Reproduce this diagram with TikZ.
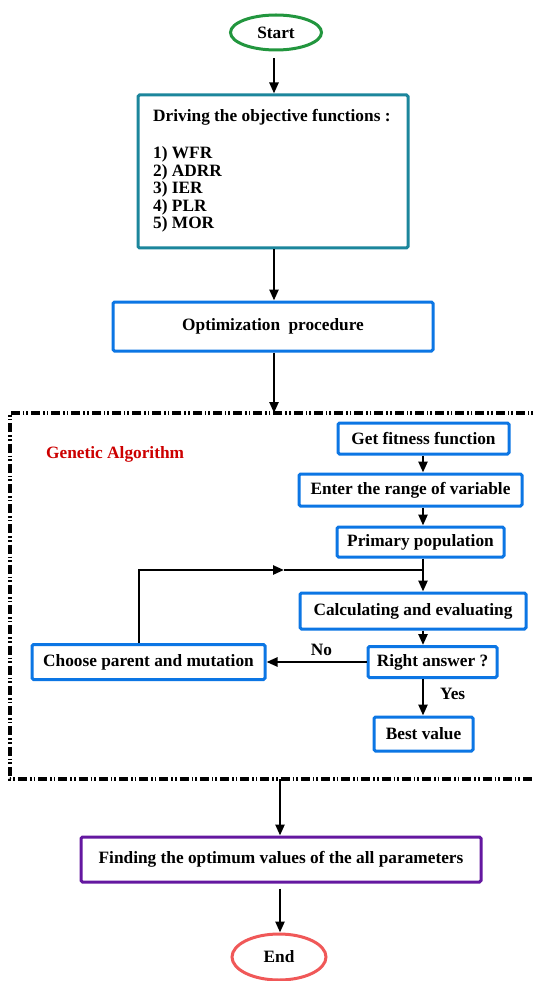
\documentclass[tikz,border=0pt]{standalone}
\usepackage{fontspec}
\setmainfont{Liberation Serif}
\usetikzlibrary{arrows.meta,shapes.geometric}
\definecolor{tealb}{RGB}{28,134,156}
\definecolor{blueb}{RGB}{12,118,228}
\definecolor{purpb}{RGB}{100,24,160}
\definecolor{greenb}{RGB}{34,150,62}
\definecolor{redb}{RGB}{240,88,88}
\definecolor{gared}{RGB}{205,0,0}
\tikzset{
  txt/.style={inner sep=0pt, font=\fontsize{17.3}{19}\selectfont\bfseries},
  box/.style={txt, draw=blueb, line width=3pt, rounded corners=1.5pt, fill=white},
  oval/.style={txt, ellipse, line width=3pt, inner sep=0pt},
  arr/.style={-{Triangle[length=11pt,width=9pt]}, line width=2.4pt},
  conn/.style={line width=2.4pt},
  gabox/.style={line width=3.2pt, dash pattern=on 9pt off 3pt on 1.6pt off 2pt on 1.6pt off 3pt}
}
\begin{document}
\begin{tikzpicture}[x=1pt,y=-1pt]
\useasboundingbox (0,0) rectangle (533,981);
\clip (0,0) rectangle (533,981);
\fill[white] (0,0) rectangle (533,981);

% helper columns
\coordinate (ax) at (274,0);
\coordinate (col) at (423,0);
\coordinate (lx) at (139,0);
\coordinate (gatop) at (274,413);
\coordinate (gabot) at (280,779);
\coordinate (junc) at (423,570);
\coordinate (loopmid) at (284,570);

% start
\node[oval, draw=greenb, minimum width=91pt, minimum height=35pt] (start) at (276,32.5) {Start};

% objective functions box
\node[box, draw=tealb, minimum width=270pt, minimum height=153pt] (box1) at (273,171.5) {};
\node[txt, anchor=base west] (t0) at (153,122) {Driving the objective functions :};
\node[txt, anchor=base west] (t1) at (153,159) {1) WFR};
\node[txt, anchor=base west] (t2) at (153,176.5) {2) ADRR};
\node[txt, anchor=base west] (t3) at (153,194) {3) IER};
\node[txt, anchor=base west] (t4) at (153,211.5) {4) PLR};
\node[txt, anchor=base west] (t5) at (153,229) {5) MOR};

% optimization
\node[box, minimum width=320pt, minimum height=49pt] (optim) at (273,326.5) {Optimization\hspace{4pt} procedure};

% genetic algorithm frame
\draw[gabox] (545,413) -- (10,413) -- (10,779) -- (545,779);
\node[txt, text=gared, anchor=base west] (galabel) at (46,458) {Genetic Algorithm};

\node[box, minimum width=171pt, minimum height=31pt] (getfit) at (423.5,438.5) {Get fitness function};
\node[box, minimum width=223pt, minimum height=32pt] (enter) at (410.5,490) {Enter the range of variable};
\node[box, minimum width=167pt, minimum height=30pt] (primary) at (420.5,542) {Primary population};
\node[box, minimum width=226pt, minimum height=36pt] (calc) at (413,611) {Calculating and evaluating};
\node[box, minimum width=129pt, minimum height=31pt] (right) at (432.5,662) {Right answer ?};
\node[box, minimum width=233pt, minimum height=35pt] (choose) at (148.5,662) {Choose parent and mutation};
\node[box, minimum width=99pt, minimum height=34pt] (best) at (423.5,734) {Best value};

% finding
\node[box, draw=purpb, minimum width=400pt, minimum height=45pt] (finding) at (281,859.5) {Finding the optimum values of the all parameters};

% end
\node[oval, draw=redb, minimum width=94pt, minimum height=46pt] (end) at (279,957) {End};

% connectors
\draw[arr] ([yshift=-7pt]start.south -| ax) -- (box1.north -| ax);
\draw[arr] (box1.south -| ax) -- (optim.north -| ax);
\draw[arr] (optim.south -| ax) -- (gatop);
\draw[arr] (getfit.south -| col) -- (enter.north -| col);
\draw[arr] (enter.south -| col) -- (primary.north -| col);
\draw[arr] (primary.south -| col) -- (calc.north -| col);
\draw[arr] (choose.north -| lx) |- (loopmid);
\draw[conn] (loopmid) -- (junc);
\draw[arr] (calc.south -| col) -- (right.north -| col);
\draw[arr] (right.west) -- (choose.east) node[txt, pos=0.45, above=5pt] (no) {No};
\draw[arr] (right.south -| col) -- (best.north -| col) node[txt, pos=0.4, right=16pt] (yes) {Yes};
\draw[arr] (gabot) -- (finding.north -| gabot);
\draw[arr] ([yshift=-5pt]finding.south -| gabot) -- (end.north -| gabot);
\end{tikzpicture}
\end{document}
